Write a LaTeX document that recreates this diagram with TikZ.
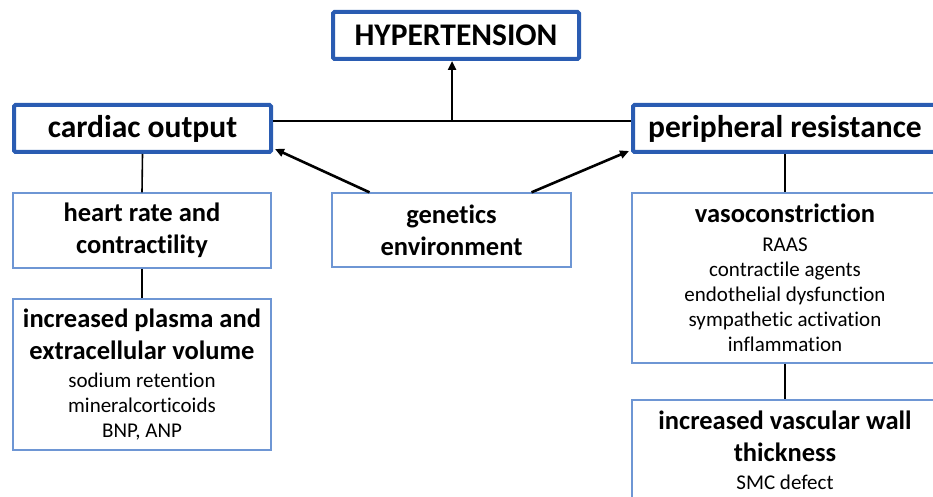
\documentclass[tikz,border=0pt]{standalone}
\usepackage{fontspec}
\setmainfont[Ligatures=NoCommon]{Carlito}
\usetikzlibrary{arrows.meta}
\definecolor{boxblue}{RGB}{42,92,178}
\definecolor{lightblue}{RGB}{110,150,212}
\tikzset{
    mainbox/.style={draw=boxblue, line width=4pt, rounded corners=1.5pt, inner sep=0pt, align=center,
        font=\fontsize{31.5}{36}\selectfont\bfseries},
    subbox/.style={draw=lightblue, line width=1.3pt, inner sep=0pt, align=center,
        font=\fontsize{26.5}{32}\selectfont\bfseries},
    link/.style={line width=1.6pt},
    bar/.style={line width=2.6pt},
    push/.style={bar, -{Triangle[length=9pt,width=8pt]}}
}
\newcommand{\detail}[1]{{\fontsize{21}{25}\selectfont\mdseries #1}}
\begin{document}
\begin{tikzpicture}[x=1pt,y=-1pt]
        \useasboundingbox (0,0) rectangle (933,497);
        \clip (0,0) rectangle (933,497);

        % top level
            \node[mainbox, minimum width=246pt, minimum height=47pt] (hyp) at (456,35.5) {HYPERTENSION};
            \node[mainbox, minimum width=257pt, minimum height=47pt] (card) at (142.5,128.5) {cardiac output};
            \node[mainbox, minimum width=304pt, minimum height=47pt] (peri) at (785,128.5) {peripheral resistance};

        % causes
            \node[subbox, minimum width=258pt, minimum height=75pt] (heart) at (142,230.5) {heart rate and\\contractility};
            \node[subbox, minimum width=258pt, minimum height=151pt] (plasma) at (142,374.5)
                {increased plasma and\\extracellular volume\\[-4pt]\detail{sodium retention}\\[-7pt]\detail{mineralcorticoids}\\[-7pt]\detail{BNP, ANP}};
            \node[subbox, minimum width=239pt, minimum height=74pt] (gen) at (451.5,230) {genetics\\environment};
            \node[subbox, minimum width=306pt, minimum height=170pt] (vaso) at (785,278)
                {vasoconstriction\\[-3pt]\detail{RAAS}\\[-7pt]\detail{contractile agents}\\[-7pt]\detail{endothelial dysfunction}\\[-7pt]\detail{sympathetic activation}\\[-7pt]\detail{inflammation}};
            \node[subbox, minimum width=306pt, minimum height=100pt] (vasc) at (785,450)
                {increased vascular wall\\thickness\\[-4pt]\detail{SMC defect}};

        % connectors
            \coordinate (join) at (452,121);
            \draw[bar] (card.east |- join) -- (peri.west |- join);
            \draw[push] (join) -- (join |- hyp.south);
            \draw[link] (card.south) -- (heart.north);
            \draw[link] (heart.south) -- (plasma.north);
            \draw[link] (peri.south) -- (vaso.north);
            \draw[link] (vaso.south) -- (vasc.north);
            \draw[push] ([xshift=-82pt]gen.north) -- ([xshift=2pt,yshift=5pt]card.south east);
            \draw[push] ([xshift=80pt]gen.north) -- ([xshift=-2pt,yshift=3pt]peri.south west);
        \end{tikzpicture}
\end{document}
